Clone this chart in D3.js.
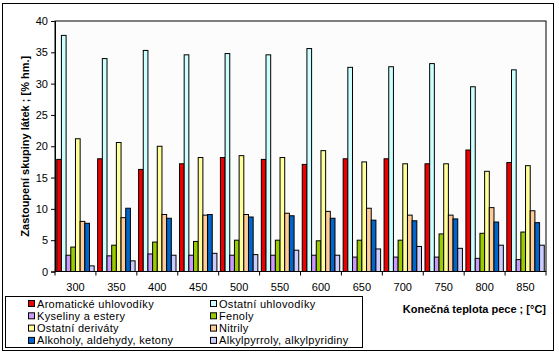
<html>
<head>
<script src="https://d3js.org/d3.v7.min.js"></script>
<style>
  body {margin:0; background:#fff; font-family:"Liberation Sans", Arial, sans-serif;}
</style>
</head>
<body>
<script>
// temperatures (x categories)
var categories = ["300","350","400","450","500","550","600","650","700","750","800","850"]
var yTicks = [0,5,10,15,20,25,30,35,40]

var seriesNames = ["Aromatické uhlovodíky","Ostatní uhlovodíky","Kyseliny a estery","Fenoly",
                   "Ostatní deriváty","Nitrily","Alkoholy, aldehydy, ketony","Alkylpyrroly, alkylpyridiny"]
var seriesColors = ["#ee0000","#ccffff","#cc99ff","#99cc00","#ffff99","#ffcc99","#0066cc","#ccccff"]

var aromaticke = [17.9,18.0,16.3,17.2,18.2,17.9,17.1,18.0,18.0,17.2,19.4,17.4]
var ostatniUhl = [37.7,34.0,35.3,34.6,34.8,34.6,35.6,32.6,32.7,33.2,29.5,32.2]
var kyseliny   = [2.6,2.5,2.8,2.6,2.6,2.6,2.6,2.3,2.3,2.3,2.1,1.9]
var fenoly     = [3.9,4.2,4.7,4.8,5.0,5.0,4.9,5.0,5.0,6.0,6.1,6.3]
var ostatniDer = [21.2,20.6,20.0,18.2,18.5,18.2,19.3,17.5,17.2,17.2,16.0,16.9]
var nitrily    = [8.0,8.6,9.1,9.0,9.1,9.3,9.6,10.1,9.0,9.0,10.2,9.7]
var alkoholy   = [7.7,10.1,8.5,9.1,8.7,8.9,8.5,8.2,8.1,8.4,7.9,7.8]
var alkylpyr   = [0.9,1.7,2.6,2.9,2.7,3.4,2.6,3.6,4.0,3.7,4.2,4.2]

var seriesValues = [aromaticke,ostatniUhl,kyseliny,fenoly,ostatniDer,nitrily,alkoholy,alkylpyr]

var width = 559, height = 354
var plot = {left:55, right:546, top:21, bottom:271.5}

var svg = d3.select("body").append("svg")
    .attr("width",width)
    .attr("height",height)
    .style("font-family","'Liberation Sans', Arial, sans-serif")

// outer chart frame
svg.append("rect")
    .attr("x",2.5).attr("y",3.5)
    .attr("width",551).attr("height",347)
    .attr("fill","#fff").attr("stroke","#000").attr("stroke-width",1)

var x = d3.scaleBand()
    .domain(categories)
    .range([plot.left,plot.right])
    .paddingInner(0.085)
    .paddingOuter(0.0425)

var xs = d3.scaleBand()
    .domain(d3.range(seriesNames.length))
    .range([0,x.bandwidth()])

var y = d3.scaleLinear()
    .domain([0,40])
    .range([plot.bottom,plot.top])

// plot area
svg.append("rect")
    .attr("x",plot.left).attr("y",plot.top)
    .attr("width",plot.right-plot.left).attr("height",plot.bottom-plot.top)
    .attr("fill","#fcfcfc").attr("stroke","#000").attr("stroke-width",1)

var groups = svg.append("g")
    .selectAll("g")
    .data(categories)
    .enter().append("g")
    .attr("transform",function(d){ return "translate(" + x(d) + ",0)" })

groups.selectAll("rect")
    .data(function(d,i){ return seriesValues.map(function(s,k){ return {k:k, v:s[i]} }) })
    .enter().append("rect")
    .attr("x",function(d){ return xs(d.k) })
    .attr("y",function(d){ return y(d.v) })
    .attr("width",xs.bandwidth())
    .attr("height",function(d){ return y(0)-y(d.v) })
    .attr("fill",function(d){ return seriesColors[d.k] })
    .attr("stroke","#000")
    .attr("stroke-width",1)

// y axis
var yAxis = svg.append("g")
    .attr("transform","translate(" + plot.left + ",0)")
    .call(d3.axisLeft(y).tickValues(yTicks).tickSize(4).tickPadding(3))
yAxis.selectAll("text").style("font-size","11px").attr("fill","#000")
yAxis.selectAll("line,path").attr("stroke","#000")

// x axis, ticks between categories like the original
var xAxisG = svg.append("g")
var step = (plot.right-plot.left)/categories.length
xAxisG.append("line")
    .attr("x1",plot.left).attr("x2",plot.right)
    .attr("y1",plot.bottom).attr("y2",plot.bottom)
    .attr("stroke","#000")
xAxisG.selectAll("line.tick")
    .data(d3.range(categories.length+1))
    .enter().append("line")
    .attr("class","tick")
    .attr("x1",function(i){ return plot.left + i*step }).attr("x2",function(i){ return plot.left + i*step })
    .attr("y1",plot.bottom).attr("y2",plot.bottom+4)
    .attr("stroke","#000")
xAxisG.selectAll("text")
    .data(categories)
    .enter().append("text")
    .attr("x",function(d){ return x(d) + x.bandwidth()/2 })
    .attr("y",291)
    .attr("text-anchor","middle")
    .style("font-size","11px")
    .text(function(d){ return d })

// axis titles
svg.append("text")
    .attr("transform","translate(29," + ((plot.top+plot.bottom)/2) + ") rotate(-90)")
    .attr("text-anchor","middle")
    .style("font-size","11px").style("font-weight","bold")
    .text("Zastoupení skupiny látek ; [% hm.]")

svg.append("text")
    .attr("x",546).attr("y",313)
    .attr("text-anchor","end")
    .style("font-size","11px").style("font-weight","bold")
    .text("Konečná teplota pece ; [°C]")

// legend
var legend = svg.append("g")
legend.append("rect")
    .attr("x",5.5).attr("y",296.5)
    .attr("width",357).attr("height",51)
    .attr("fill","#fff").attr("stroke","#000")

var item = legend.selectAll("g.item")
    .data(seriesNames)
    .enter().append("g")
    .attr("class","item")
    .attr("transform",function(d,i){
        var col = i % 2, row = Math.floor(i/2)
        return "translate(" + (col==0 ? 28 : 210) + "," + (300 + row*12.3) + ")"
    })
item.append("rect")
    .attr("x",0.5).attr("y",0.5)
    .attr("width",6).attr("height",6)
    .attr("fill",function(d,i){ return seriesColors[i] })
    .attr("stroke","#000")
item.append("text")
    .attr("x",9).attr("y",7.5)
    .style("font-size","11px")
    .style("letter-spacing","0.3px")
    .text(function(d){ return d })
</script>
</body>
</html>
